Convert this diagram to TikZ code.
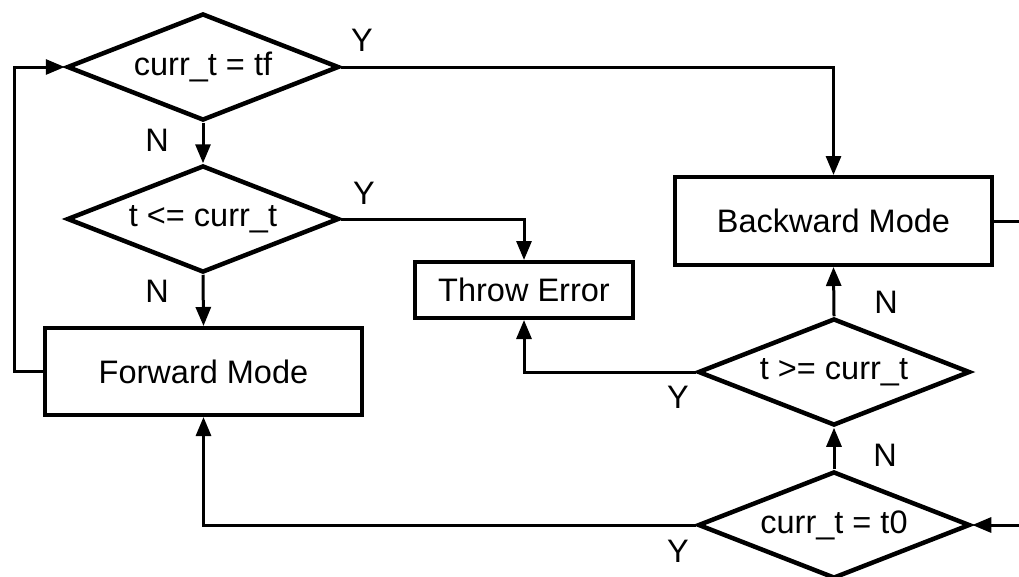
\documentclass[tikz,border=0pt]{standalone}
\usepackage{fontspec}
\setmainfont{Liberation Sans}
\usetikzlibrary{shapes.geometric,arrows.meta}
\begin{document}
\begin{tikzpicture}[x=1pt,y=-1pt,
  txt/.style={font=\fontsize{32.5}{38}\selectfont},
  decision/.style={txt,draw,line width=4.5pt,diamond,aspect=2.54,inner sep=0pt,
    minimum width=272pt,minimum height=107pt,line join=miter},
  stepbox/.style={txt,draw,line width=4pt,rectangle,inner sep=0pt},
  conn/.style={line width=3pt,-{Triangle[length=19pt,width=15pt]}},
  plain/.style={line width=3pt},
  lbl/.style={txt,inner sep=0pt}]
\useasboundingbox (0,0) rectangle (1019,576);

% decisions
\node[decision] (d1) at (203,67)  {curr\_t = tf};
\node[decision] (d2) at (203,219) {t <= curr\_t};
\node[decision] (d3) at (834,372) {t >= curr\_t};
\node[decision] (d4) at (834,525) {curr\_t = t0};

% process boxes
\node[stepbox,minimum width=317pt,minimum height=87pt] (fm) at (203.5,371.5) {Forward Mode};
\node[stepbox,minimum width=218pt,minimum height=56pt] (te) at (524,290) {Throw Error};
\node[stepbox,minimum width=317pt,minimum height=88pt] (bm) at (833.5,221) {Backward Mode};

% loose ends at the right border
\coordinate (r1) at (1019,221);
\coordinate (r2) at (1019,525);

% connectors
\draw[conn] (d1.south) -- (d2.north);
\draw[conn] (d2.south) -- (fm.north);
\draw[conn] (fm.west) -- (14,371.5) |- (d1.west);
\draw[conn] (d1.east) -| (bm.north);
\draw[conn] (d2.east) -| (te.north);
\draw[conn] (d3.west) -| (te.south);
\draw[conn] (d3.north) -- (bm.south);
\draw[conn] (d4.north) -- (d3.south);
\draw[conn] (d4.west) -| (fm.south);
\draw[plain] (bm.east) -- (r1);
\draw[conn] (r2) -- (d4.east);

% branch labels
\node[lbl] (y1) at (362,40)  {Y};
\node[lbl] (n1) at (157,140) {N};
\node[lbl] (y2) at (364,193) {Y};
\node[lbl] (n2) at (157,291) {N};
\node[lbl] (n3) at (886,302) {N};
\node[lbl] (y3) at (678,397) {Y};
\node[lbl] (n4) at (885,455) {N};
\node[lbl] (y4) at (678,551) {Y};
\end{tikzpicture}
\end{document}
